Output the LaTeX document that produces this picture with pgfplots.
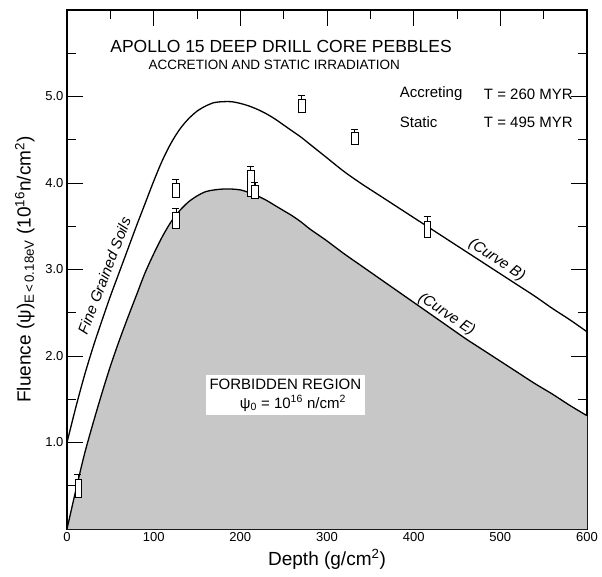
\documentclass[border=0pt]{standalone}
\usepackage{fontspec}
\setmainfont{Liberation Sans}
\usepackage{pgfplots}
\pgfplotsset{compat=1.18}
\usepackage{pgfplotstable}

% accreting curve (B)
\pgfplotstableread{
x y
0 1.00
10 1.40
20 1.77
30 2.10
40 2.40
50 2.69
60 2.96
70 3.23
80 3.50
90 3.76
100 4.02
110 4.26
120 4.46
130 4.62
140 4.74
150 4.83
160 4.89
170 4.93
180 4.94
190 4.94
200 4.92
210 4.89
220 4.85
230 4.80
240 4.74
250 4.67
260 4.60
270 4.53
280 4.45
290 4.37
300 4.29
320 4.13
340 3.99
360 3.86
380 3.73
400 3.60
420 3.47
440 3.34
460 3.21
480 3.08
500 2.95
520 2.82
540 2.69
560 2.55
580 2.42
600 2.28
}\curveB

% static curve (E)
\pgfplotstableread{
x y
0 0.00
10 0.44
20 0.86
30 1.22
40 1.56
50 1.88
60 2.17
70 2.44
80 2.70
90 2.96
100 3.18
110 3.38
120 3.55
130 3.68
140 3.78
150 3.85
160 3.90
170 3.92
180 3.93
190 3.93
200 3.92
210 3.89
220 3.85
230 3.80
240 3.74
250 3.68
260 3.62
270 3.55
280 3.47
290 3.40
300 3.33
320 3.18
340 3.04
360 2.90
380 2.76
400 2.62
420 2.48
440 2.34
460 2.20
480 2.07
500 1.94
520 1.81
540 1.68
560 1.56
580 1.43
600 1.31
}\curveE

\begin{document}
\begin{tikzpicture}
\begin{axis}[
  scale only axis, width=520pt, height=519pt,
  xmin=0, xmax=600, ymin=0, ymax=6,
  xtick={0,100,...,600}, minor xtick={50,150,...,550},
  ytick={1,2,3,4,5}, minor ytick={0.5,1.5,...,5.5},
  yticklabel style={/pgf/number format/.cd, fixed, fixed zerofill, precision=1},
  /pgf/number format/assume math mode=true,
  tick align=inside, major tick length=16pt, minor tick length=9pt,
  every tick/.style={black, line width=0.9pt},
  axis line style={line width=1.1pt},
  tick label style={font=\fontsize{13}{15}\selectfont},
  xlabel={Depth (g/cm\textsuperscript{2})},
  ylabel={Fluence (ψ)\textsubscript{E\,<\,0.18eV} (10\textsuperscript{16}n/cm\textsuperscript{2})},
  label style={font=\fontsize{19}{21}\selectfont},
  xlabel style={yshift=-1pt},
  ylabel style={yshift=4pt},
  unbounded coords=jump,
  clip=true,
]
% forbidden region
\addplot[draw=none, fill=black!22] table[x=x, y=y] {\curveE} \closedcycle;
\addplot[black, line width=1.3pt, smooth] table[x=x, y=y] {\curveE};
\addplot[black, line width=1.3pt, smooth] table[x=x, y=y] {\curveB};

% pebbles: boxes
\addplot[black, line width=0.9pt, fill=white] coordinates {(9.2,0.36) (16.8,0.36) (16.8,0.57) (9.2,0.57)} -- cycle;
\addplot[black, line width=0.9pt, fill=white] coordinates {(122.2,3.48) (129.8,3.48) (129.8,3.66) (122.2,3.66)} -- cycle;
\addplot[black, line width=0.9pt, fill=white] coordinates {(122.2,3.83) (129.8,3.83) (129.8,4.00) (122.2,4.00)} -- cycle;
\addplot[black, line width=0.9pt, fill=white] coordinates {(208.2,3.85) (215.8,3.85) (215.8,4.15) (208.2,4.15)} -- cycle;
\addplot[black, line width=0.9pt, fill=white] coordinates {(213.2,3.82) (220.8,3.82) (220.8,3.97) (213.2,3.97)} -- cycle;
\addplot[black, line width=0.9pt, fill=white] coordinates {(267.2,4.81) (274.8,4.81) (274.8,4.97) (267.2,4.97)} -- cycle;
\addplot[black, line width=0.9pt, fill=white] coordinates {(328.2,4.44) (335.8,4.44) (335.8,4.59) (328.2,4.59)} -- cycle;
\addplot[black, line width=0.9pt, fill=white] coordinates {(412.2,3.37) (419.8,3.37) (419.8,3.56) (412.2,3.56)} -- cycle;
% pebbles: stems and caps
\addplot[black, line width=0.9pt] coordinates {
 (13,0.57) (13,0.63) (nan,nan) (8.5,0.63) (16.5,0.63) (nan,nan)
 (126,3.66) (126,3.70) (nan,nan) (121.5,3.70) (129.5,3.70) (nan,nan)
 (126,4.00) (126,4.04) (nan,nan) (121.5,4.04) (129.5,4.04) (nan,nan)
 (212,4.15) (212,4.19) (nan,nan) (207.5,4.19) (215.5,4.19) (nan,nan)
 (217,3.97) (217,4.01) (nan,nan) (212.5,4.01) (220.5,4.01) (nan,nan)
 (271,4.97) (271,5.01) (nan,nan) (266.5,5.01) (274.5,5.01) (nan,nan)
 (332,4.59) (332,4.62) (nan,nan) (327.5,4.62) (335.5,4.62) (nan,nan)
 (416,3.56) (416,3.61) (nan,nan) (411.5,3.61) (419.5,3.61)
};

% texts
\node[font=\fontsize{17.5}{19}\selectfont] at (axis cs:247,5.58) {APOLLO 15 DEEP DRILL CORE PEBBLES};
\node[font=\fontsize{13.5}{15}\selectfont] at (axis cs:239,5.36) {ACCRETION AND STATIC IRRADIATION};
\node[font=\fontsize{15}{17}\selectfont, anchor=west] at (axis cs:380,5.03) {Accreting};
\node[font=\fontsize{15}{17}\selectfont, anchor=west] at (axis cs:477,5.03) {T = 260 MYR};
\node[font=\fontsize{15}{17}\selectfont, anchor=west] at (axis cs:380,4.70) {Static};
\node[font=\fontsize{15}{17}\selectfont, anchor=west] at (axis cs:477,4.70) {T = 495 MYR};
\node[font=\fontsize{15}{17}\itshape, rotate=69, inner sep=1pt] at (axis cs:43,2.93) {Fine Grained Soils};
\node[font=\fontsize{15}{17}\itshape, rotate=-34, inner sep=1pt] at (axis cs:496,3.11) {(Curve B)};
\node[font=\fontsize{15}{17}\itshape, rotate=-33, inner sep=1pt] at (axis cs:438,2.48) {(Curve E)};
\node[fill=white, align=center, inner sep=4pt, font=\fontsize{15}{19}\selectfont] at (axis cs:252,1.55)
  {FORBIDDEN REGION\\ \quad ψ\textsubscript{0} = 10\textsuperscript{16} n/cm\textsuperscript{2}};
\end{axis}
\path (current axis.south west) ++(-67pt,-47pt);
\path (current axis.north east) ++(15pt,10pt);
\end{tikzpicture}
\end{document}
